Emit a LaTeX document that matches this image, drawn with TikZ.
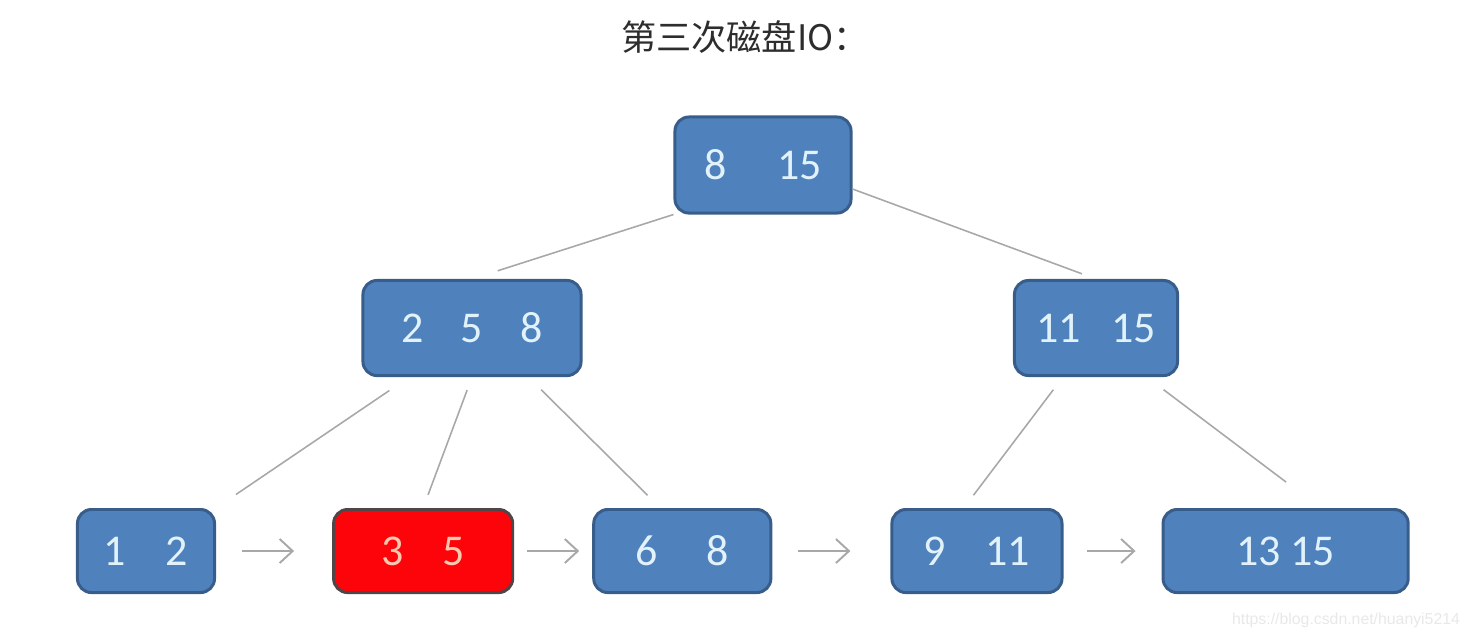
\documentclass[tikz,border=0pt]{standalone}
\usepackage{fontspec}
\usepackage{tikz}
\usetikzlibrary{arrows.meta,positioning}
\newfontfamily\cjkfont{Noto Sans CJK SC}
\newfontfamily\numfont{Carlito}
\newfontfamily\wmfont{Liberation Sans}
\definecolor{nodefill}{RGB}{79,129,189}
\definecolor{nodeline}{RGB}{56,93,138}
\definecolor{hitfill}{RGB}{252,4,10}
\definecolor{hitline}{RGB}{80,70,72}
\definecolor{numtext}{RGB}{225,242,250}
\definecolor{hittext}{RGB}{250,200,175}
\definecolor{linkgray}{RGB}{168,168,168}
\definecolor{titletext}{RGB}{45,45,45}

\begin{document}
\begin{tikzpicture}[
    x=0.01cm, y=-0.01cm,
    key/.style={rectangle, draw=nodeline, fill=nodefill, line width=0.85pt,
                rounded corners=0.14cm, text=numtext, inner sep=0pt,
                font=\numfont\fontsize{12.5}{15}\selectfont},
    inner/.style={key, minimum height=0.95cm},
    leaf/.style={key, minimum height=0.83cm},
    hit/.style={leaf, draw=hitline, fill=hitfill, text=hittext},
    edge/.style={draw=linkgray, line width=0.45pt},
    link/.style={draw=linkgray, line width=0.55pt,
                 -{Straight Barb[length=1.3mm,width=2.4mm]}}
  ]
    \useasboundingbox (0,0) rectangle (1470,638);

    \node[font=\cjkfont\fontsize{10}{12}\selectfont, text=titletext] (title) at (745,37) {第三次磁盘IO：};

    \node[inner, minimum width=1.76cm, minimum height=0.96cm] (root) at (763,165) {8\hspace{1.15em}15};
    \node[inner, minimum width=2.18cm] (ml) at (472,328) {2\hspace{0.85em}5\hspace{0.85em}8};
    \node[inner, minimum width=1.63cm] (mr) at (1096,328) {11\hspace{0.7em}15};

    \node[leaf, minimum width=1.37cm] (l1) at (146,551) {1\hspace{0.9em}2};
    \node[hit, minimum width=1.79cm, right=1.16cm of l1] (l2) {3\hspace{0.9em}5};
    \node[leaf, minimum width=1.77cm, right=0.78cm of l2] (l3) {6\hspace{1.1em}8};
    \node[leaf, minimum width=1.70cm, right=1.18cm of l3] (l4) {9\hspace{0.9em}11};
    \node[leaf, minimum width=2.45cm, right=0.98cm of l4] (l5) {13 15};

    % tree edges
    \foreach \a/\b/\s/\t in {root.south west/ml.north/0mm/2.7mm,
                             root.-15/mr.north/0mm/1.5mm,
                             ml.218/l1.north east/2.4mm/2.4mm,
                             ml.south/l2.north/1.4mm/1.4mm,
                             ml.-41/l3.117/1.8mm/1.8mm,
                             mr.-124/l4.107/1.6mm/1.6mm,
                             mr.-44/l5.51/2.1mm/4.3mm}
      \draw[edge, shorten <=\s, shorten >=\t] (\a) -- (\b);

    % leaf links
    \foreach \a/\b/\s/\t in {l1/l2/2.6mm/3.8mm, l2/l3/1.3mm/1.3mm,
                             l3/l4/2.6mm/4.0mm, l4/l5/2.3mm/2.6mm}
      \draw[link, shorten <=\s, shorten >=\t] (\a) -- (\b);

    \node[font=\wmfont\fontsize{4.5}{5}\selectfont, text=black!9] (mark) at (1346,620) {https://blog.csdn.net/huanyi5214};
  \end{tikzpicture}
\end{document}
